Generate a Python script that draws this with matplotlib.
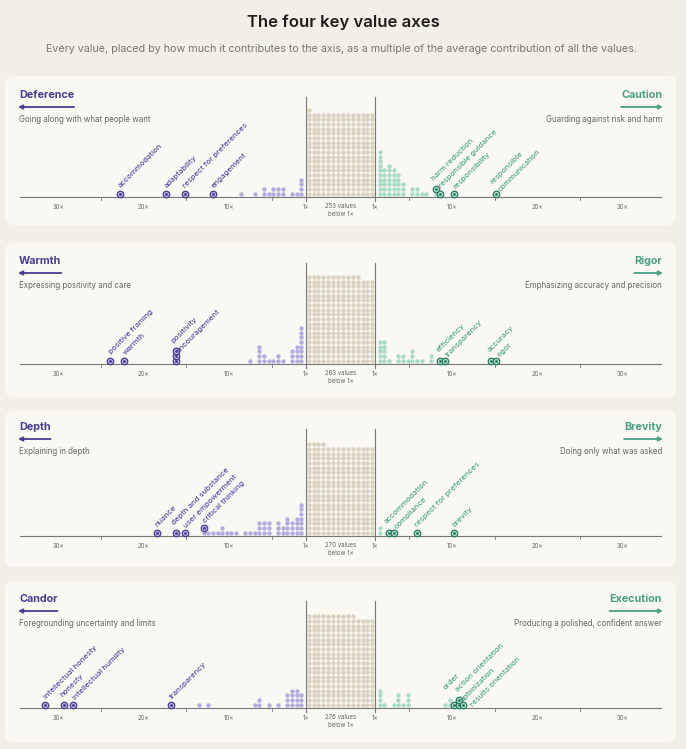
import numpy as np
import matplotlib
matplotlib.use("Agg")
import matplotlib.pyplot as plt
from matplotlib.patches import FancyBboxPatch

plt.rcParams["font.family"] = ["Inter", "DejaVu Sans"]

# ---------------- data ----------------
left_names = ["Deference", "Warmth", "Depth", "Candor"]
right_names = ["Caution", "Rigor", "Brevity", "Execution"]
left_desc = ["Going along with what people want",
             "Expressing positivity and care",
             "Explaining in depth",
             "Foregrounding uncertainty and limits"]
right_desc = ["Guarding against risk and harm",
              "Emphasizing accuracy and precision",
              "Doing only what was asked",
              "Producing a polished, confident answer"]
below_counts = [253, 263, 270, 276]

# small dots: (multiple of the average, how many values stacked there)
deference_dots = [(1.55, 4), (2.09, 1), (2.64, 1), (3.69, 2), (4.24, 2), (4.78, 2),
                  (5.33, 1), (5.88, 2), (6.96, 1), (8.6, 1)]
caution_dots = [(1.55, 10), (2.09, 6), (2.64, 7), (3.19, 6), (3.73, 5), (4.27, 3),
                (5.33, 2), (5.88, 2), (6.42, 1), (6.96, 1), (8.1, 1)]
warmth_dots = [(1.55, 8), (2.09, 4), (2.64, 3), (3.69, 1), (4.24, 2), (4.78, 1),
               (5.33, 1), (5.88, 2), (6.42, 4), (7.51, 1)]
rigor_dots = [(1.55, 5), (2.09, 5), (2.64, 1), (3.73, 2), (4.27, 2), (4.82, 1),
              (5.37, 3), (5.91, 1), (6.46, 1), (7.55, 2)]
depth_dots = [(1.58, 7), (2.13, 4), (2.67, 3), (3.22, 4), (3.73, 2), (4.27, 3),
              (5.36, 3), (5.91, 3), (6.46, 3), (7.0, 1), (7.55, 1), (8.1, 1),
              (9.11, 1), (9.65, 1), (10.2, 1), (10.74, 2), (11.29, 1), (11.84, 1),
              (12.38, 1), (12.93, 1)]
brevity_dots = [(1.55, 2)]
candor_dots = [(1.58, 3), (2.13, 4), (2.67, 4), (3.22, 3), (4.27, 1), (5.36, 1),
               (6.46, 2), (7.0, 1), (12.35, 1), (13.44, 1)]
execution_dots = [(1.55, 4), (2.09, 1), (3.19, 1), (3.73, 3), (4.27, 1), (4.82, 3),
                  (9.15, 1), (9.69, 2)]

# named values
deference_labels = [("accommodation", 22.6), ("adaptability", 17.2),
                    ("respect for preferences", 15.1), ("engagement", 11.8)]
caution_labels = [("harm reduction", 8.1), ("responsible guidance", 8.64),
                  ("responsibility", 10.2), ("responsible\ncommunication", 15.1)]
warmth_labels = [("positive framing", 23.8), ("warmth", 22.1), ("", 16.2),
                 ("encouragement", 16.2), ("positivity", 16.2)]
rigor_labels = [("efficiency", 8.56), ("transparency", 9.03),
                ("accuracy", 14.5), ("rigor", 15.07)]
depth_labels = [("nuance", 18.3), ("depth and substance", 16.1),
                ("user empowerment", 15.07), ("critical thinking", 12.93)]
brevity_labels = [("accommodation", 2.64), ("compliance", 3.1),
                  ("respect for preferences", 5.91), ("brevity", 10.24)]
candor_labels = [("intellectual honesty", 31.3), ("honesty", 29.15),
                 ("intellectual humility", 28.05), ("transparency", 16.7)]
execution_labels = [("order", 10.2), ("optimization", 10.7),
                    ("action orientation", 10.7), ("results orientation", 11.2)]

left_dots = [deference_dots, warmth_dots, depth_dots, candor_dots]
right_dots = [caution_dots, rigor_dots, brevity_dots, execution_dots]
left_labels = [deference_labels, warmth_labels, depth_labels, candor_labels]
right_labels = [caution_labels, rigor_labels, brevity_labels, execution_labels]

tick_labels = [10, 20, 30]
tick_minor = [5, 15, 25]

# ---------------- layout / style ----------------
W, H, DPI = 686, 749, 100
PX_PER_X = 8.55      # pixels per 1x
GAP = 4.03           # half width of the centre block (x units)
STEP = 0.545         # dot pitch along the axis (x units)
ROW = 4.65           # dot pitch upwards (px)
ROW0 = 3.3           # first row centre above the axis line (px)
AXIS_END = 34.5
LINE_GAP = 10.5      # min spacing between rotated labels (px)
CX = 340.5

card_tops = [76, 243, 411, 581]
card_bottoms = [225, 397, 567, 742]
axis_ys = [197, 364, 536, 708]
title_ys = [95, 261, 427, 599]

PAGE = "#f3eee6"
CARD = "#f9f8f3"
PURPLE = "#4b3c8e"
PURPLE_TXT = "#5b4ca3"
PURPLE_LIGHT = "#b5abdf"
PURPLE_RING = "#b9aee0"
GREEN = "#4c9f85"
GREEN_TXT = "#4fa589"
GREEN_LIGHT = "#a9dbc8"
GREEN_RING = "#b0e0cd"
GREEN_DARK = "#2b7a62"
BEIGE = "#dad1c1"
GREY_TXT = "#656565"
LINE = "#777777"


def draw_side(ax, dots, labels, side, small_c, ring_c, dark_c, text_c):
    heights = {}
    xs, ys = [], []
    for v, n in dots:
        b = int(round((v - 1) / STEP))
        h0 = heights.get(b, 0)
        for k in range(n):
            xs.append(side * (GAP + b * STEP))
            ys.append(ROW0 + (h0 + k) * ROW)
        heights[b] = h0 + n
    ax.scatter(xs, ys, s=10, color=small_c, linewidths=0, zorder=3)

    lx, ly, entries = [], [], []
    for name, v in labels:
        b = int(round((v - 1) / STEP))
        row = heights.get(b, 0)
        heights[b] = row + 1
        x = side * (GAP + b * STEP)
        y = ROW0 + row * ROW
        lx.append(x)
        ly.append(y)
        for line in name.split("\n"):
            if line:
                entries.append([(x * PX_PER_X - y) / np.sqrt(2), x, y, line])
    ax.scatter(lx, ly, s=22, facecolor=ring_c, edgecolor=dark_c, linewidths=0.9, zorder=4)
    ax.scatter(lx, ly, s=4, color=dark_c, linewidths=0, zorder=5)

    # spread the 45 degree labels so that they do not sit on top of each other
    entries.sort(key=lambda e: e[0])
    p0 = [e[0] for e in entries]
    p = list(p0)
    for _ in range(80):
        for j in range(len(p) - 1):
            gap = p[j + 1] - p[j]
            if gap < LINE_GAP:
                d = (LINE_GAP - gap) / 2
                p[j] -= d
                p[j + 1] += d
    for e, pj, pj0 in zip(entries, p, p0):
        s = (pj - pj0) / np.sqrt(2)
        ax.text(e[1] + (1.5 + s) / PX_PER_X, e[2] + 5 - s, e[3], rotation=45,
                rotation_mode="anchor", ha="left", va="bottom", fontsize=5.6,
                fontweight="medium", color=text_c, zorder=6)


fig = plt.figure(figsize=(W / DPI, H / DPI), dpi=DPI)
fig.patch.set_facecolor(PAGE)
fig.text(343 / W, 1 - 22 / H, "The four key value axes", ha="center", va="center",
         fontsize=12, fontweight="semibold", color="#1d1d1b")
fig.text(341 / W, 1 - 49 / H,
         "Every value, placed by how much it contributes to the axis, as a multiple "
         "of the average contribution of all the values.",
         ha="center", va="center", fontsize=7.7, color="#777777")

titles = []
for i in range(4):
    top, bot, ay, ty = card_tops[i], card_bottoms[i], axis_ys[i], title_ys[i]
    fig.add_artist(FancyBboxPatch((5 / DPI, (H - bot) / DPI), 671 / DPI, (bot - top) / DPI,
                                  boxstyle="round,pad=0,rounding_size=0.09",
                                  transform=fig.dpi_scale_trans, facecolor=CARD,
                                  edgecolor="none", zorder=-1))
    ax = fig.add_axes([5 / W, (H - bot) / H, 671 / W, (bot - top) / H])
    ax.set_xlim((5 - CX) / PX_PER_X, (676 - CX) / PX_PER_X)
    ax.set_ylim(-(bot - ay), ay - top)
    ax.axis("off")

    def X(px):
        return (px - CX) / PX_PER_X

    def Y(py):
        return ay - py

    lt = ax.text(X(19), Y(ty), left_names[i], ha="left", va="center", fontsize=7.8,
                 fontweight="bold", color=PURPLE)
    rt = ax.text(X(662), Y(ty), right_names[i], ha="right", va="center", fontsize=7.8,
                 fontweight="bold", color=GREEN)
    titles.append((lt, -1, ty + 12, PURPLE, ax))
    titles.append((rt, 1, ty + 12, GREEN, ax))
    ax.text(X(19), Y(ty + 24), left_desc[i], ha="left", va="center", fontsize=5.7,
            color=GREY_TXT)
    ax.text(X(662), Y(ty + 24), right_desc[i], ha="right", va="center", fontsize=5.7,
            color=GREY_TXT)

    # axis line, dividers and ticks
    end = GAP + AXIS_END - 1
    ax.plot([-end, end], [0, 0], color=LINE, lw=0.8, zorder=2)
    for side in (-1, 1):
        ax.plot([side * GAP, side * GAP], [-4, Y(ty + 2)], color=LINE, lw=0.8, zorder=2)
        ax.text(side * GAP, -9.7, "1\u00d7", ha="center", va="center", fontsize=4.4,
                color=GREY_TXT)
        for v in tick_minor:
            xv = side * (GAP + v - 1)
            ax.plot([xv, xv], [0.5, -3], color=LINE, lw=0.6, zorder=2)
        for v in tick_labels:
            ax.text(side * (GAP + v - 1), -9.7, f"{v}\u00d7", ha="center", va="center",
                    fontsize=4.4, color=GREY_TXT)

    # centre block: values below 1x
    n = below_counts[i]
    cols = np.linspace(-3.72, 3.72, 14)
    bx, by = [], []
    for k in range(n):
        r, c = divmod(k, 14)
        bx.append(cols[c])
        by.append(ROW0 + r * ROW)
    ax.scatter(bx, by, s=10, color=BEIGE, linewidths=0, zorder=3)
    ax.text(0, -6.3, f"{n} values\nbelow 1\u00d7", ha="center", va="top", fontsize=4.4,
            color=GREY_TXT, linespacing=1.35)

    draw_side(ax, left_dots[i], left_labels[i], -1, PURPLE_LIGHT, PURPLE_RING,
              PURPLE, PURPLE_TXT)
    draw_side(ax, right_dots[i], right_labels[i], 1, GREEN_LIGHT, GREEN_RING,
              GREEN_DARK, GREEN_TXT)

# arrows under the pole titles, as wide as the titles
fig.canvas.draw()
renderer = fig.canvas.get_renderer()
for t, side, y_px, color, ax in titles:
    bb = t.get_window_extent(renderer=renderer)
    y = H - y_px
    if side < 0:
        head, tail = bb.x0 - 1, bb.x1
    else:
        head, tail = bb.x1 + 1, bb.x0
    ax.annotate("", xy=(head, y), xytext=(tail, y), xycoords="figure pixels",
                textcoords="figure pixels",
                arrowprops=dict(arrowstyle="-|>", color=color, lw=1.3,
                                mutation_scale=6, shrinkA=0, shrinkB=0))

fig.savefig("out.png", dpi=DPI, facecolor=PAGE)
